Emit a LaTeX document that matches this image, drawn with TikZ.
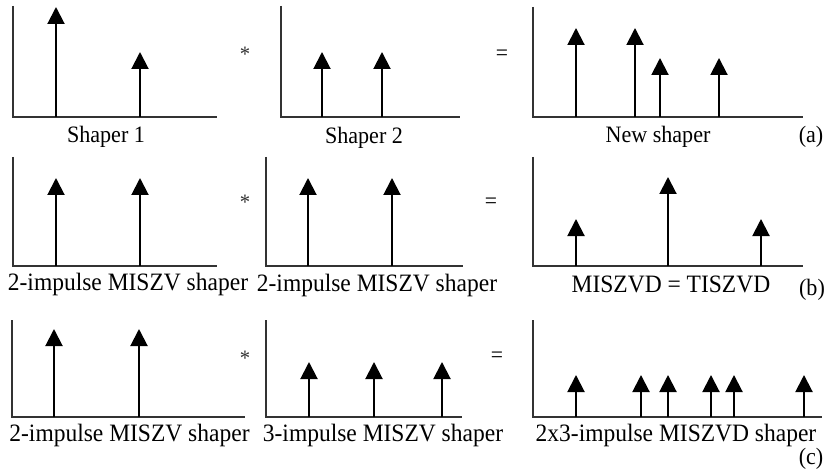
\documentclass[tikz,border=0pt]{standalone}
\usepackage{fontspec}
\setmainfont[FakeStretch=0.94]{Liberation Serif}
\usetikzlibrary{arrows.meta}
\begin{document}
\begin{tikzpicture}[x=1pt,y=-1pt,
  axisline/.style={line width=1.3pt,draw=black!80},
  stem/.style={line width=2pt,-{Triangle[width=17pt,length=17pt]}},
  lbla/.style={font=\fontsize{23.5}{26}\selectfont,anchor=base,inner sep=0pt},
  lbl/.style={font=\fontsize{25}{28}\selectfont,anchor=base,inner sep=0pt},
  opst/.style={font=\fontsize{22}{24}\selectfont,inner sep=0pt,text=black!80},
  opeq/.style={font=\fontsize{23}{26}\selectfont,inner sep=0pt}]
\useasboundingbox (0,0) rectangle (826,470);
\fill[white] (0,0) rectangle (826,470);
% axes: #1 x0, #2 top, #3 base, #4 x1
\newcommand\myaxes[4]{\draw[axisline] (#1,#2) -- (#1,#3) -- (#4,#3);}
\newcommand\myimp[3]{\draw[stem] (#1,#2) -- (#1,#3);}
% Row (a)
\myaxes{13}{6}{117}{217}
\myimp{56}{117}{7}
\myimp{140}{117}{52}
\myaxes{281}{6}{117}{460}
\myimp{322}{117}{52}
\myimp{382}{117}{52}
\myaxes{533}{7}{117}{803}
\myimp{576}{117}{28}
\myimp{635}{117}{28}
\myimp{660}{117}{58}
\myimp{719}{117}{58}
\node[lbla] (la1) at (106,143) {Shaper 1};
\node[lbla] (la2) at (364,144) {Shaper 2};
\node[lbla] (la3) at (658,143) {New shaper};
\node[lbla] (ta) at (811,143) {(a)};
\node[opst] (sa) at (245,54) {*};
\node[opeq] (ea) at (502,55) {=};
% Row (b)
\myaxes{13}{157}{266}{217}
\myimp{56}{266}{178}
\myimp{140}{266}{178}
\myaxes{266}{157}{266}{463}
\myimp{308}{266}{178}
\myimp{392}{266}{178}
\myaxes{533}{157}{266}{803}
\myimp{576}{266}{219}
\myimp{668}{266}{177}
\myimp{761}{266}{219}
\node[lbl] (lb1) at (128,290) {2-impulse MISZV shaper};
\node[lbl] (lb2) at (377,291) {2-impulse MISZV shaper};
\node[lbl] (lb3) at (671,292) {MISZVD = TISZVD};
\node[lbla] (tb) at (812,295) {(b)};
\node[opst] (sb) at (245,202) {*};
\node[opeq] (eb) at (491,203) {=};
% Row (c)
\myaxes{12}{320}{417}{245}
\myimp{54}{417}{329}
\myimp{139}{417}{329}
\myaxes{266}{320}{417}{462}
\myimp{309}{417}{362}
\myimp{374}{417}{362}
\myimp{442}{417}{362}
\myaxes{533}{320}{417}{822}
\myimp{576}{417}{375}
\myimp{641}{417}{375}
\myimp{668}{417}{375}
\myimp{711}{417}{375}
\myimp{734}{417}{375}
\myimp{804}{417}{375}
\node[lbl] (lc1) at (129.5,441) {2-impulse MISZV shaper};
\node[lbl] (lc2) at (383,441) {3-impulse MISZV shaper};
\node[lbl] (lc3) at (676,441) {2x3-impulse MISZVD shaper};
\node[lbla] (tc) at (811,464) {(c)};
\node[opst] (sc) at (245,358) {*};
\node[opeq] (ec) at (497,357) {=};
\end{tikzpicture}
\end{document}
